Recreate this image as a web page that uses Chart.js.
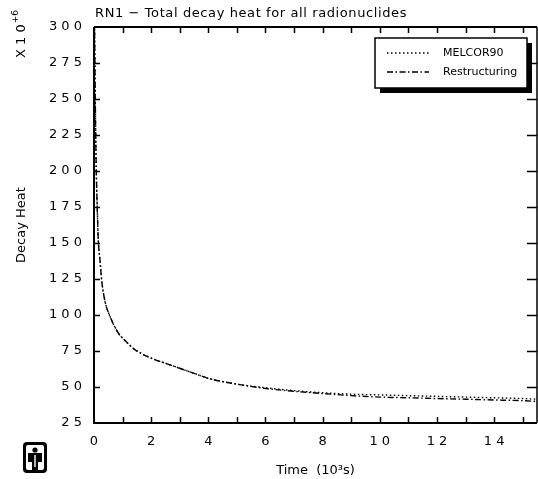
<!DOCTYPE html>
<html>
<head>
<meta charset="utf-8">
<script src="https://cdn.jsdelivr.net/npm/chart.js@4/dist/chart.umd.min.js"></script>
<style>
  html, body { margin: 0; padding: 0; background: #fff; }
  #wrap { width: 538px; height: 479px; position: relative; }
</style>
</head>
<body>
<div id="wrap"><canvas id="decay"></canvas></div>
<script>
const chartTitle = "RN1 \u2212 Total decay heat for all radionuclides";
const seriesNames = ["MELCOR90", "Restructuring"];

// time in 10^3 s
const times = [0, 0.02, 0.05, 0.08, 0.12, 0.15, 0.21, 0.27, 0.38, 0.56, 0.85, 1.1, 1.43, 2.13, 2.5, 3, 3.5, 4, 5, 6, 7, 8, 9, 10, 11, 12, 13, 14, 15, 15.5];
// decay heat x 10^6
const melcor90 = [340, 300, 240, 200, 170, 152, 138, 124, 110, 99, 87.5, 82, 76, 69, 66.5, 63, 59.5, 56, 52, 49.5, 47.5, 46, 45, 44.5, 44, 43.5, 43, 42.5, 42, 41.5];
const restructuring = [340, 300, 240, 200, 170, 152, 138, 124, 110, 99, 87.5, 82, 76, 69, 66.5, 63, 59.5, 56, 52, 49, 47, 45.5, 44, 43, 42.5, 42, 41.5, 41, 40.5, 40];

const yTicks = [25, 50, 75, 100, 125, 150, 175, 200, 225, 250, 275, 300];
const xLabelled = [0, 2, 4, 6, 8, 10, 12, 14];

const FONT = "DejaVu Sans";

// spread digits apart like the plotter font
const spaced = (v) => String(v).split('').join(' ');

const toPoints = (ys) => times.map((t, i) => ({ x: t, y: ys[i] }));

// frame, inward ticks, title, legend box and logo
const plotterDecor = {
    id: 'plotterDecor',
    afterDraw(chart) {
        const ctx = chart.ctx;
        const a = chart.chartArea;
        const xs = chart.scales.x;
        const ys = chart.scales.y;
        ctx.save();

        // frame
        ctx.strokeStyle = '#000';
        ctx.lineWidth = 2;
        ctx.beginPath();
        ctx.moveTo(a.left, a.top);
        ctx.lineTo(a.left, a.bottom);
        ctx.lineTo(a.right, a.bottom);
        ctx.moveTo(a.left, a.top);
        ctx.lineTo(a.right, a.top);
        ctx.stroke();
        ctx.lineWidth = 1.5;
        ctx.beginPath();
        ctx.moveTo(a.right, a.top);
        ctx.lineTo(a.right, a.bottom);
        ctx.stroke();

        // ticks
        ctx.lineWidth = 1.5;
        ctx.beginPath();
        for (let t = 1; t <= 15; t++) {
            const px = Math.round(xs.getPixelForValue(t)) + 0.5;
            ctx.moveTo(px, a.bottom);
            ctx.lineTo(px, a.bottom - 6);
            ctx.moveTo(px, a.top);
            ctx.lineTo(px, a.top + 6);
        }
        yTicks.forEach((v) => {
            if (v === 25 || v === 300) return;
            const py = Math.round(ys.getPixelForValue(v)) + 0.5;
            ctx.moveTo(a.left, py);
            ctx.lineTo(a.left + 6, py);
            ctx.moveTo(a.right, py);
            ctx.lineTo(a.right - 10, py);
        });
        ctx.stroke();

        // title
        ctx.fillStyle = '#000';
        ctx.font = '13px ' + FONT;
        ctx.textAlign = 'left';
        ctx.textBaseline = 'alphabetic';
        ctx.letterSpacing = '0.6px';
        ctx.fillText(chartTitle, a.left + 1, 17);
        ctx.letterSpacing = '0px';

        // X 10^+6 multiplier, rotated
        ctx.save();
        ctx.translate(25, 58);
        ctx.rotate(-Math.PI / 2);
        ctx.font = '13px ' + FONT;
        ctx.fillText('X 1 0', 0, 0);
        const w = ctx.measureText('X 1 0').width;
        ctx.font = '9px ' + FONT;
        ctx.fillText('+6', w + 1, -7);
        ctx.restore();

        // legend box with drop shadow
        const lx = 375, ly = 38, lw = 152, lh = 50;
        ctx.fillStyle = '#000';
        ctx.fillRect(lx + 5, ly + 5, lw, lh);
        ctx.fillStyle = '#fff';
        ctx.fillRect(lx, ly, lw, lh);
        ctx.strokeStyle = '#000';
        ctx.lineWidth = 1.5;
        ctx.strokeRect(lx, ly, lw, lh);

        chart.data.datasets.forEach((ds, i) => {
            const yy = ly + 15 + i * 19;
            ctx.save();
            ctx.strokeStyle = '#000';
            ctx.lineWidth = 1.3;
            ctx.setLineDash(ds.borderDash);
            ctx.beginPath();
            ctx.moveTo(lx + 12, yy);
            ctx.lineTo(lx + 54, yy);
            ctx.stroke();
            ctx.restore();
            ctx.fillStyle = '#000';
            ctx.font = '11px ' + FONT;
            ctx.textBaseline = 'middle';
            ctx.fillText(ds.label, lx + 68, yy);
        });

        // logo
        const gx = 23, gy = 442;
        ctx.fillStyle = '#000';
        ctx.beginPath();
        ctx.roundRect(gx, gy, 24, 31, 4);
        ctx.fill();
        ctx.fillStyle = '#fff';
        ctx.beginPath();
        ctx.roundRect(gx + 3, gy + 3, 18, 25, 2);
        ctx.fill();
        ctx.fillStyle = '#000';
        ctx.beginPath();
        ctx.arc(gx + 12, gy + 8, 2.6, 0, Math.PI * 2);
        ctx.fill();
        ctx.fillRect(gx + 5, gy + 11, 14, 9);
        ctx.fillRect(gx + 9, gy + 20, 6, 8);
        ctx.fillStyle = '#fff';
        ctx.fillRect(gx + 11.3, gy + 13, 1.4, 12);
        ctx.restore();
    }
};

const ctx = document.getElementById('decay').getContext('2d');
const chart = new Chart(ctx, {
    type: 'line',
    data: {
        datasets: [{
            label: seriesNames[0],
            data: toPoints(melcor90),
            borderColor: '#000',
            borderWidth: 1.4,
            borderDash: [1.5, 2.5],
            pointRadius: 0,
            cubicInterpolationMode: 'monotone',
            fill: false
        }, {
            label: seriesNames[1],
            data: toPoints(restructuring),
            borderColor: '#000',
            borderWidth: 1.4,
            borderDash: [6, 2.5, 1.5, 2.5],
            pointRadius: 0,
            cubicInterpolationMode: 'monotone',
            fill: false
        }]
    },
    options: {
        responsive: true,
        maintainAspectRatio: false,
        animation: false,
        layout: { padding: { left: 0, top: 27, right: 1, bottom: 0 } },
        plugins: {
            legend: { display: false },
            tooltip: { enabled: false },
            title: { display: false }
        },
        scales: {
            x: {
                type: 'linear',
                min: 0,
                max: 15.5,
                afterFit: (s) => { s.height = 56; s.paddingLeft = 0; s.paddingRight = 0; },
                grid: { display: false, drawTicks: false },
                border: { display: false },
                ticks: {
                    stepSize: 1,
                    autoSkip: false,
                    maxRotation: 0,
                    padding: 11,
                    color: '#000',
                    font: { family: FONT, size: 13 },
                    callback: (v) => xLabelled.includes(v) ? spaced(v) : ''
                },
                title: {
                    display: true,
                    text: 'Time  (10\u00b3s)',
                    color: '#000',
                    font: { family: FONT, size: 13 },
                    padding: { top: 0, bottom: 1 }
                }
            },
            y: {
                min: 25,
                max: 300,
                afterFit: (s) => { s.width = 94; s.paddingTop = 0; s.paddingBottom = 0; },
                grid: { display: false, drawTicks: false },
                border: { display: false },
                ticks: {
                    stepSize: 25,
                    autoSkip: false,
                    padding: 12,
                    color: '#000',
                    font: { family: FONT, size: 13 },
                    callback: (v) => yTicks.includes(v) ? spaced(v) : ''
                },
                title: {
                    display: true,
                    text: 'Decay Heat',
                    color: '#000',
                    font: { family: FONT, size: 13 },
                    padding: { top: 14, bottom: 0 }
                }
            }
        }
    },
    plugins: [plotterDecor]
});
</script>
</body>
</html>
